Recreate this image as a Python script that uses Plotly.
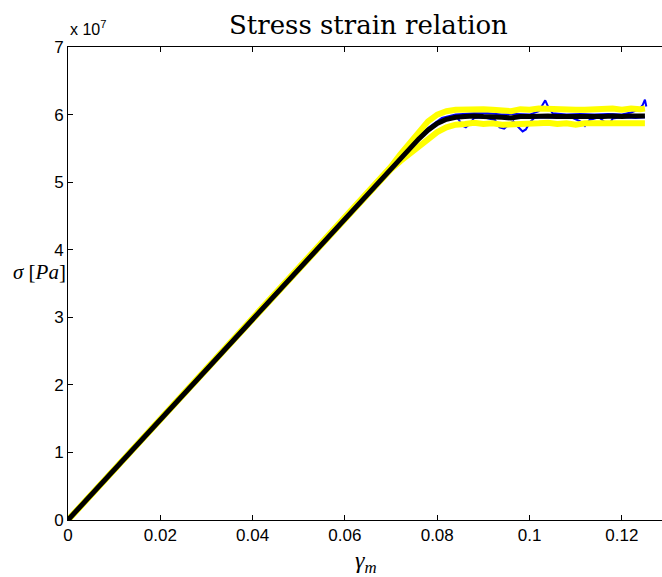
import plotly.graph_objects as go

# Mean stress-strain response of the sample set (stress in units of 1e7 Pa)
strain_mean = [0.000, 0.066, 0.070, 0.072, 0.074, 0.076, 0.078, 0.080, 0.082, 0.084,
               0.086, 0.088, 0.090, 0.092, 0.094, 0.096, 0.098, 0.100, 0.102, 0.104,
               0.106, 0.108, 0.110, 0.112, 0.114, 0.116, 0.118, 0.120, 0.122, 0.124, 0.125]
stress_mean = [0.00, 4.92, 5.21, 5.36, 5.50, 5.64, 5.77, 5.87, 5.93, 5.96,
               5.97, 5.98, 5.97, 5.97, 5.96, 5.95, 5.97, 5.97, 5.98, 5.98,
               5.97, 5.97, 5.96, 5.97, 5.97, 5.97, 5.98, 5.97, 5.98, 5.98, 5.98]
# Standard deviation of the samples at the same strains (1e7 Pa)
stress_std = [0.00, 0.00, 0.02, 0.05, 0.08, 0.11, 0.13, 0.13, 0.12, 0.11,
              0.11, 0.10, 0.11, 0.10, 0.11, 0.10, 0.11, 0.10, 0.11, 0.10,
              0.11, 0.10, 0.11, 0.10, 0.11, 0.10, 0.11, 0.10, 0.11, 0.10, 0.11]

# Individual samples
strain_s1 = [0.000, 0.066, 0.070, 0.074, 0.078, 0.081, 0.083, 0.0845, 0.0856, 0.0862,
             0.0870, 0.0880, 0.0900, 0.0925, 0.0935, 0.0945, 0.0955, 0.0965, 0.0975, 0.0985,
             0.0992, 0.1000, 0.1010, 0.1030, 0.1060, 0.1090, 0.1110, 0.1120, 0.1130, 0.1150,
             0.1165, 0.1172, 0.1180, 0.1200, 0.1230, 0.1250]
stress_s1 = [0.00, 4.92, 5.21, 5.50, 5.78, 5.93, 5.96, 5.94, 5.83, 5.81,
             5.86, 5.95, 5.96, 5.92, 5.81, 5.79, 5.85, 5.90, 5.82, 5.75,
             5.78, 5.88, 5.95, 5.96, 5.95, 5.96, 5.90, 5.83, 5.92, 5.96,
             5.88, 5.85, 5.94, 5.96, 5.95, 5.96]

strain_s2 = [0.000, 0.066, 0.070, 0.074, 0.078, 0.081, 0.084, 0.088, 0.091, 0.094,
             0.097, 0.100, 0.1020, 0.1028, 0.1034, 0.1040, 0.1050, 0.1080, 0.1110, 0.1140,
             0.1170, 0.1200, 0.1220, 0.1238, 0.1245, 0.1250, 0.1253]
stress_s2 = [0.00, 4.92, 5.22, 5.52, 5.80, 5.95, 6.00, 6.02, 6.02, 6.00,
             6.01, 6.00, 6.05, 6.15, 6.21, 6.12, 6.02, 6.00, 6.01, 6.00,
             6.01, 6.00, 6.03, 6.08, 6.14, 6.22, 6.12]

SCALE = 1e7
x_ticks = [0, 0.02, 0.04, 0.06, 0.08, 0.10, 0.12]
x_tick_text = ["0", "0.02", "0.04", "0.06", "0.08", "0.1", "0.12"]
y_ticks = [0, 1, 2, 3, 4, 5, 6, 7]
y_tick_text = ["0", "1", "2", "3", "4", "5", "6", "7"]

fig = go.Figure()

for sx, sy in [(strain_s1, stress_s1), (strain_s2, stress_s2)]:
    fig.add_trace(go.Scatter(x=sx, y=[v * SCALE for v in sy], mode="lines",
                             line=dict(color="#0000ff", width=2), showlegend=False))

upper = [(m + s) * SCALE for m, s in zip(stress_mean, stress_std)]
lower = [(m - s) * SCALE for m, s in zip(stress_mean, stress_std)]
for band in (upper, lower):
    fig.add_trace(go.Scatter(x=strain_mean, y=band, mode="lines",
                             line=dict(color="#ffff00", width=6), showlegend=False))

fig.add_trace(go.Scatter(x=strain_mean, y=[v * SCALE for v in stress_mean], mode="lines",
                         line=dict(color="#000000", width=5), showlegend=False))

tick_font = dict(family="Liberation Sans, Arial, sans-serif", size=17, color="black")
serif = "Liberation Serif, Times New Roman, serif"

fig.update_layout(
    width=662, height=577,
    margin=dict(l=68, r=0, t=47, b=57),
    paper_bgcolor="white", plot_bgcolor="white",
    xaxis=dict(range=[0, 0.1287], tickvals=x_ticks, ticktext=x_tick_text,
               ticks="inside", ticklen=5, tickcolor="black", showline=True,
               linecolor="black", linewidth=1, mirror="ticks", showgrid=False,
               zeroline=False, tickfont=tick_font),
    yaxis=dict(range=[0, 7 * SCALE], tickvals=[t * SCALE for t in y_ticks],
               ticktext=y_tick_text, ticks="inside", ticklen=5, tickcolor="black",
               showline=True, linecolor="black", linewidth=1, mirror=False,
               showgrid=False, zeroline=False, tickfont=tick_font),
    annotations=[
        dict(text="Stress strain relation", xref="paper", yref="paper",
             x=0.5067, y=1.0465, xanchor="center", yanchor="middle",
             showarrow=False,
             font=dict(family="DejaVu Serif, serif", size=26, color="black")),
        dict(text="x 10<sup>7</sup>", xref="paper", yref="paper",
             x=0.0, y=1.0148, xanchor="left", yanchor="bottom",
             showarrow=False, font=dict(family="Liberation Sans, Arial, sans-serif",
                                        size=16, color="black")),
        dict(text="<i>σ</i> [<i>Pa</i>]", xref="paper", yref="paper",
             x=-0.0005, y=0.524, xanchor="right", yanchor="middle",
             showarrow=False, font=dict(family=serif, size=21, color="black")),
        dict(text="<i>γ</i><sub><i>m</i></sub>", xref="paper", yref="paper",
             x=0.5017, y=-0.088, xanchor="center", yanchor="middle",
             showarrow=False, font=dict(family=serif, size=24, color="black")),
    ],
)

fig.write_html("out.html")
